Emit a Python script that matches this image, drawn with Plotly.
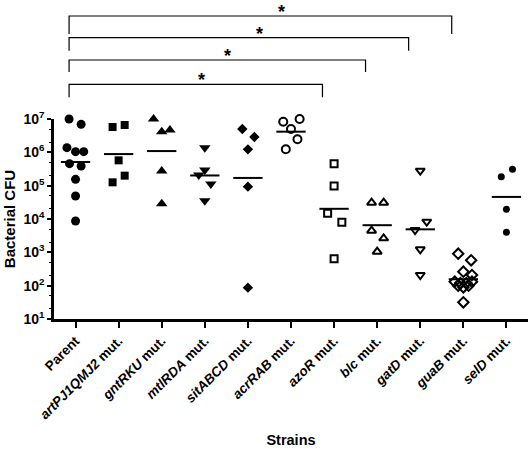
import numpy as np
import plotly.graph_objects as go

# ---------------- data ----------------
strains = ["Parent", "artPJ1QMJ2", "gntRKU", "mtlRDA", "sitABCD", "acrRAB",
           "azoR", "blc", "gatD", "guaB", "selD"]
tick_labels = ["<b>Parent</b>"] + [f"<b><i>{s}</i> mut.</b>" for s in strains[1:]]

# log10(CFU) per strain
log_cfu = {
    "Parent":     [7.00, 6.84, 6.14, 6.02, 6.02, 5.66, 5.59, 5.19, 4.69, 3.94],
    "artPJ1QMJ2": [6.76, 6.82, 5.76, 5.30, 5.10],
    "gntRKU":     [7.00, 6.62, 6.67, 5.44, 4.46],
    "mtlRDA":     [6.14, 5.47, 5.32, 5.05, 4.55],
    "sitABCD":    [6.70, 6.46, 6.09, 4.97, 1.94],
    "acrRAB":     [6.92, 7.00, 6.70, 6.39, 6.09],
    "azoR":       [5.66, 4.99, 4.17, 3.90, 2.81],
    "blc":        [4.49, 4.49, 3.65, 3.42, 3.02],
    "gatD":       [5.45, 3.92, 3.67, 3.09, 2.32],
    "guaB":       [2.96, 2.76, 2.42, 2.32, 2.12, 2.12, 2.08, 2.08, 2.00, 2.00, 1.95, 1.50],
    "selD":       [5.27, 5.49, 4.29, 3.60],
}
# scatter dodge offsets (category units), as laid out in the original
jitter = {
    "Parent":     [-0.15, 0.13, -0.20, 0.00, 0.19, -0.14, 0.13, 0.0, 0.0, 0.0],
    "artPJ1QMJ2": [-0.14, 0.14, 0.0, 0.14, -0.14],
    "gntRKU":     [-0.19, 0.0, 0.19, 0.0, 0.0],
    "mtlRDA":     [0.0, 0.0, -0.14, 0.14, 0.0],
    "sitABCD":    [-0.13, 0.15, 0.0, 0.0, 0.0],
    "acrRAB":     [-0.18, 0.20, 0.0, 0.15, -0.12],
    "azoR":       [0.0, 0.0, -0.15, 0.18, 0.0],
    "blc":        [-0.13, 0.15, -0.13, 0.15, 0.0],
    "gatD":       [0.0, 0.15, -0.12, 0.0, 0.0],
    "guaB":       [-0.12, 0.18, 0.0, 0.20, -0.20, 0.20, -0.07, 0.07, -0.12, 0.12, 0.0, 0.0],
    "selD":       [-0.12, 0.14, 0.0, 0.0],
}
# significance comparisons: Parent vs these strains
comparisons = ["guaB", "gatD", "blc", "azoR"]

# ---------------- styles ----------------
symbols = {
    "Parent": ("circle", 9), "artPJ1QMJ2": ("square", 8), "gntRKU": ("triangle-up", 10),
    "mtlRDA": ("triangle-down", 10), "sitABCD": ("diamond", 8), "acrRAB": ("circle-open", 8),
    "azoR": ("square-open", 7), "blc": ("triangle-up-open", 8), "gatD": ("triangle-down-open", 8),
    "guaB": ("diamond-open", 8), "selD": ("circle", 7),
}

fig = go.Figure()
for i, s in enumerate(strains):
    vals = np.array(log_cfu[s])
    xs = i + np.array(jitter[s])
    sym, sz = symbols[s]
    fig.add_trace(go.Scatter(
        x=xs, y=10 ** vals, mode="markers",
        marker=dict(symbol=sym, size=sz, color="black",
                    line=dict(color="black", width=2 if "open" in sym else 0)),
        cliponaxis=False, showlegend=False))
    gm = 10 ** vals.mean()
    fig.add_trace(go.Scatter(
        x=[i - 0.34, i + 0.34], y=[gm, gm], mode="lines",
        line=dict(color="black", width=2), cliponaxis=False, showlegend=False))

# brackets (paper-y positions in pixels from top of page)
H_PLOT = 200.0
TOP = 119.0
def py(pix):
    return (TOP + H_PLOT - pix) / H_PLOT

bracket_pix = [16, 37.7, 60, 84.3]
drop = [18, 13, 12, 13]
star_x = [4.79, 4.27, 3.52, 2.92]
for k, s in enumerate(comparisons):
    j = strains.index(s)
    x0 = -0.15
    x1 = j - 0.27
    yt = py(bracket_pix[k])
    yb = py(bracket_pix[k] + drop[k])
    fig.add_shape(type="path",
                  path=f"M {x0},{yb} L {x0},{yt} L {x1},{yt} L {x1},{yb}",
                  xref="x", yref="paper", line=dict(color="black", width=1.2))
    fig.add_annotation(x=star_x[k], y=yt, xref="x", yref="paper", text="<b>*</b>",
                       showarrow=False, yanchor="bottom", yshift=-8,
                       font=dict(family="Liberation Sans", size=18, color="black"))

fig.update_layout(
    width=531, height=449,
    margin=dict(l=54, r=3, t=119, b=130),
    plot_bgcolor="white", paper_bgcolor="white",
    font=dict(family="Liberation Sans", color="black"),
    xaxis=dict(range=[-0.5, 10.5], tickmode="array", tickvals=list(range(len(strains))),
               ticktext=tick_labels, tickangle=-45,
               tickfont=dict(family="Liberation Sans", size=13.5, color="black"),
               showline=True, linecolor="black", linewidth=2.5,
               ticks="outside", ticklen=6, tickwidth=2, tickcolor="black",
               showgrid=False, zeroline=False,
               title=dict(text="<b>Strains</b>", font=dict(size=14.5), standoff=14)),
    yaxis=dict(type="log", range=[1, 7], tickmode="array",
               tickvals=[10 ** k for k in range(1, 8)],
               ticktext=[f"<b>10<sup>{k}</sup></b>" for k in range(1, 8)],
               tickfont=dict(family="Liberation Sans", size=14, color="black"),
               showline=True, linecolor="black", linewidth=2.5,
               ticks="outside", ticklen=4, tickwidth=2, tickcolor="black",
               minor=dict(ticks="outside", ticklen=2, tickwidth=1, tickcolor="black",
                          showgrid=False),
               showgrid=False, zeroline=False,
               title=dict(text="<b>Bacterial CFU</b>", font=dict(size=15), standoff=5)),
)

fig.write_html("out.html")
